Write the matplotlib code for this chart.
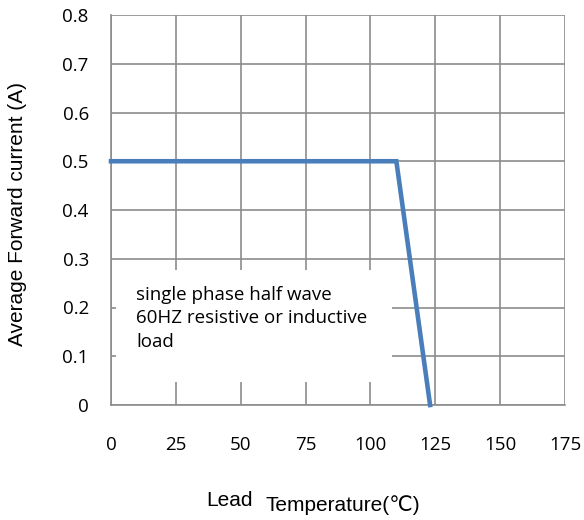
import matplotlib.pyplot as plt
from matplotlib.patches import Rectangle

# derating curve points
lead_temp = [0, 110, 123]
avg_current = [0.5, 0.5, 0.0]

x_ticks = [0, 25, 50, 75, 100, 125, 150, 175]
y_ticks = [0, 0.1, 0.2, 0.3, 0.4, 0.5, 0.6, 0.7, 0.8]
y_tick_labels = ['0', '0.1', '0.2', '0.3', '0.4', '0.5', '0.6', '0.7', '0.8']

note = "single phase half wave\n60HZ resistive or inductive\nload"

W, H = 584, 520
fig = plt.figure(figsize=(W / 100, H / 100), dpi=100)
ax = fig.add_axes([111 / W, 1 - 405 / H, 454 / W, 390 / H])

grid_col = '#8c8c8c'
ax.set_xlim(0, 175)
ax.set_ylim(0, 0.8)
ax.set_xticks(x_ticks)
ax.set_yticks(y_ticks)
ax.set_yticklabels(y_tick_labels)
ax.grid(True, color=grid_col, linewidth=1.2, zorder=0)
ax.set_axisbelow(True)
for s in ax.spines.values():
    s.set_color(grid_col)
    s.set_linewidth(1.2)
ax.spines['top'].set_visible(False)
ax.spines['right'].set_visible(False)
ax.tick_params(length=0, labelsize=13.5, colors='black')
ax.tick_params(axis='x', pad=22)
ax.tick_params(axis='y', pad=16)
for lbl in ax.get_xticklabels() + ax.get_yticklabels():
    lbl.set_fontfamily('Open Sans')

# white note box covering the grid
ax.add_patch(Rectangle((1.9, 0.047), 106.6, 0.23, facecolor='white',
                       edgecolor='none', zorder=1))
ax.text(9.6, 0.245, note, fontsize=13.5, family='Open Sans', va='top',
        ha='left', linespacing=1.42, zorder=2)

ax.plot(lead_temp, avg_current, color='#4a7ebb', linewidth=3.3,
        solid_joinstyle='miter', zorder=3, clip_on=False)

fig.text(18 / W, 1 - 214 / H, 'Average Forward current (A)', rotation=90,
         ha='center', va='center', fontsize=15, family='Liberation Sans')
fig.text(206 / W, 1 - 501 / H, 'Lead', ha='left', va='center',
         fontsize=15, family='Liberation Sans')
fig.text(266 / W, 1 - 505 / H, 'Temperature(℃)', ha='left', va='center',
         fontsize=15, family=['Liberation Sans', 'DejaVu Sans'])

fig.savefig('out.png', dpi=100)
